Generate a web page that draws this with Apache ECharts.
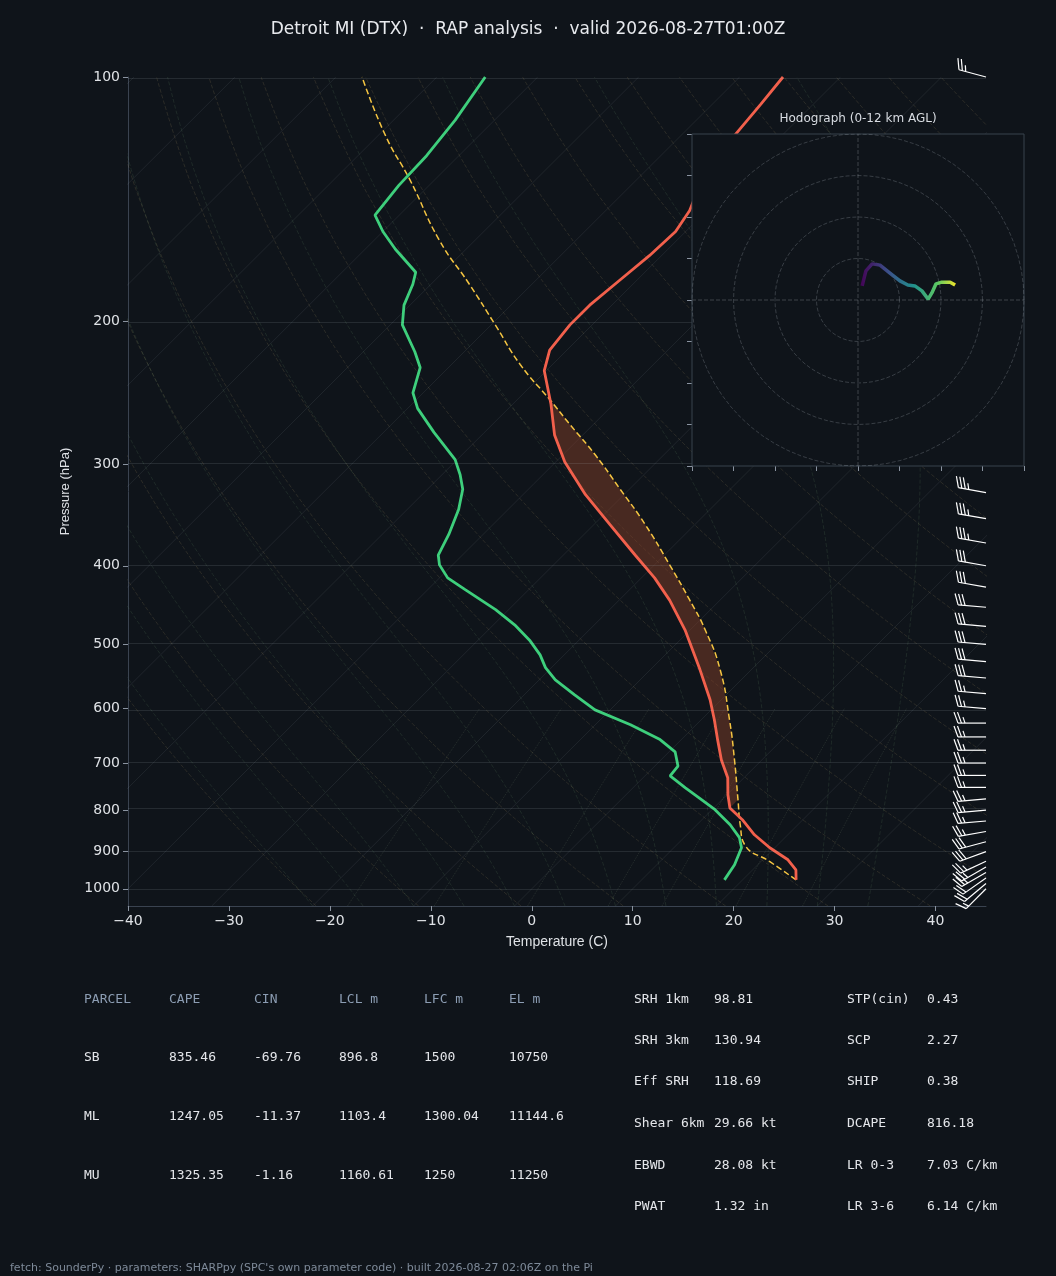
<!DOCTYPE html>
<html><head><meta charset="utf-8">
<script src="https://cdn.jsdelivr.net/npm/echarts@6/dist/echarts.min.js"></script>
<style>html,body{margin:0;padding:0;background:#0f141a}#c{width:1056px;height:1276px}</style>
</head><body><div id="c"></div>
<script>
// ---- data ----
const tempP = [975,948,921,890,858,822,795,766,730,694,655,619,585,537,480,441,414,388,356,327,298,276,253,230,217,202,191,178,166,155,146,136,127,118,108,100];
const tempT = [25.3,24.3,22.5,19.5,16.7,14.0,11.6,10.1,8.4,6.0,3.6,1.3,-1.1,-5.1,-10.5,-15.0,-18.7,-22.9,-28.4,-33.8,-39.1,-42.8,-46.2,-50.2,-51.7,-52.2,-52.2,-51.7,-51.2,-51.0,-51.7,-53.2,-54.2,-54.7,-55.2,-55.7];
const dewP = [975,934,890,865,834,799,773,751,726,706,678,655,628,602,577,553,534,515,494,473,453,428,414,399,388,366,341,322,309,296,274,256,245,228,218,202,191,180,174,163,155,148,136,125,113,100];
const dewT = [18.2,17.7,16.7,15.5,13.3,10.3,7.6,5.2,2.5,2.3,0.6,-2.1,-6.5,-11.5,-15.0,-18.4,-20.6,-22.4,-24.9,-27.9,-31.3,-36.3,-39.2,-41.3,-42.4,-43.4,-44.9,-46.5,-48.2,-50.2,-55.0,-59.0,-61.0,-62.8,-64.9,-68.8,-70.6,-71.8,-72.7,-77.0,-80.0,-82.4,-83.0,-83.2,-83.9,-85.2];
const parcelP = [975,926,883,834,777,694,619,537,480,441,399,356,322,292,268,250,226,202,180,159,134,118,100];
const parcelT = [25.3,20.9,16.75,14.3,11.6,7.3,2.8,-3.1,-8.5,-13.0,-18.5,-24.9,-30.9,-36.8,-42.3,-46.7,-53.2,-59.6,-66.2,-73.5,-82.4,-89.3,-97.4];
const windP = [1000,985,970,955,940,925,900,875,850,825,800,775,750,725,700,675,650,625,600,575,550,525,500,475,450,425,400,375,350,325,300,275,250,225,200,175,150,125,100];
const windSpd = [15,20,20,25,25,25,30,30,25,25,25,25,25,25,25,25,25,25,25,25,30,30,30,30,30,30,30,35,35,35,35,35,40,40,40,35,35,30,25];
const windDir = [225,230,235,240,240,245,250,255,260,265,265,265,270,270,270,270,270,270,275,275,275,275,275,275,275,280,280,280,280,280,280,280,280,280,280,280,280,285,285];
const hodoU = [1.0,1.9,3.4,5.3,7.7,10.1,12.0,13.7,15.4,16.9,17.8,18.8,20.2,22.2,23.4];
const hodoV = [3.4,7.0,8.7,8.4,6.5,4.6,3.6,3.4,2.2,0.2,1.7,3.9,4.3,4.3,3.6];
const pTicks = [100,200,300,400,500,600,700,800,900,1000];
const tableHead = ['PARCEL','CAPE','CIN','LCL m','LFC m','EL m'];
const tableRows = [['SB','835.46','-69.76','896.8','1500','10750'],['ML','1247.05','-11.37','1103.4','1300.04','11144.6'],['MU','1325.35','-1.16','1160.61','1250','11250']];
const paramL = [['SRH 1km','98.81'],['SRH 3km','130.94'],['Eff SRH','118.69'],['Shear 6km','29.66 kt'],['EBWD','28.08 kt'],['PWAT','1.32 in']];
const paramR = [['STP(cin)','0.43'],['SCP','2.27'],['SHIP','0.38'],['DCAPE','816.18'],['LR 0-3','7.03 C/km'],['LR 3-6','6.14 C/km']];

// ---- skew transform ----
const SK = 35;
const sx = (T,p) => T + SK*Math.log(1000/p);
const pts = (P,T) => P.map((p,i)=>[sx(T[i],p), Math.log(p)]);

const bg = [];
for (let T=-120; T<=40; T+=10) bg.push({type:'line',data:[[sx(T,1050),Math.log(1050)],[sx(T,100),Math.log(100)]],symbol:'none',silent:true,lineStyle:{color:'rgba(200,210,220,0.09)',width:1},z:1});
const plev=[]; for(let p=1050;p>=100;p-=25) plev.push(p);
for (let th=250; th<=470; th+=10) bg.push({type:'line',data:plev.map(p=>[sx(th*Math.pow(p/1000,0.2857)-273.15,p),Math.log(p)]),symbol:'none',silent:true,smooth:true,lineStyle:{color:'rgba(190,170,110,0.16)',width:1,type:'dashed'},z:1});
function es(Tc){return 6.112*Math.exp(17.67*Tc/(Tc+243.5));}
for (let T0=-20; T0<=35; T0+=5){
  let Tk=T0+273.15; const up=[];
  for(let pp=1050; pp>=100; pp-=10){ up.push([sx(Tk-273.15,pp),Math.log(pp)]);
    const e=es(Tk-273.15), rs=0.622*e/(pp-e);
    const dTdp=(287*Tk+2.5e6*rs)/(pp*(1004+2.5e6*2.5e6*rs*0.622/(287*Tk*Tk)));
    Tk -= dTdp*10; }
  bg.push({type:'line',data:up,symbol:'none',silent:true,lineStyle:{color:'rgba(120,170,120,0.15)',width:1,type:'dashed'},z:1});
}
[1,2,4,7,10,16,24].forEach(w=>{
  const d=[]; for(let p=1050;p>=600;p-=25){const e=w*p/(622+w);const l=Math.log(e/6.112);d.push([sx(243.5*l/(17.67-l),p),Math.log(p)]);}
  bg.push({type:'line',data:d,symbol:'none',silent:true,lineStyle:{color:'rgba(150,170,140,0.18)',width:1,type:'dotted'},z:1});
});

const capeTop=250, capeBot=800;
const capeSeries = {type:'custom',z:2,silent:true,data:[[0,Math.log(500)]],renderItem:(params,api)=>{
  const poly=[];
  parcelP.forEach((p,i)=>{if(p<=capeBot&&p>=capeTop) poly.push(api.coord([sx(parcelT[i],p),Math.log(p)]));});
  for(let i=tempP.length-1;i>=0;i--){const p=tempP[i]; if(p<=capeBot&&p>=capeTop) poly.push(api.coord([sx(tempT[i],p),Math.log(p)]));}
  return {type:'polygon',shape:{points:poly},style:{fill:'rgba(130,62,40,0.5)'}};
}};

const barbSeries={type:'custom',z:3,silent:true,clip:false,
  data: windP.map((p,i)=>[45,Math.log(p),windSpd[i],windDir[i]]),
  renderItem:(params,api)=>{
    const c=api.coord([api.value(0),api.value(1)]);
    const spd=api.value(2), d=api.value(3)*Math.PI/180, L=28;
    const s=[Math.sin(d),-Math.cos(d)], pr=[-s[1],s[0]];
    const tip=[c[0]+s[0]*L,c[1]+s[1]*L];
    const ch=[{type:'line',shape:{x1:c[0],y1:c[1],x2:tip[0],y2:tip[1]},style:{stroke:'#fff',lineWidth:1.2}}];
    let r=spd, pos=0;
    while(r>=50){const b=[tip[0]-s[0]*pos,tip[1]-s[1]*pos];ch.push({type:'polygon',shape:{points:[b,[b[0]+pr[0]*12+s[0]*2,b[1]+pr[1]*12+s[1]*2],[b[0]-s[0]*5,b[1]-s[1]*5]]},style:{fill:'#fff'}});pos+=7;r-=50;}
    while(r>=10){const b=[tip[0]-s[0]*pos,tip[1]-s[1]*pos];ch.push({type:'line',shape:{x1:b[0],y1:b[1],x2:b[0]+pr[0]*11+s[0]*4,y2:b[1]+pr[1]*11+s[1]*4},style:{stroke:'#fff',lineWidth:1.2}});pos+=3.5;r-=10;}
    if(r>=5){const b=[tip[0]-s[0]*pos,tip[1]-s[1]*pos];ch.push({type:'line',shape:{x1:b[0],y1:b[1],x2:b[0]+pr[0]*6+s[0]*2,y2:b[1]+pr[1]*6+s[1]*2},style:{stroke:'#fff',lineWidth:1.2}});}
    return {type:'group',children:ch};
  }};

const hodoBg={type:'custom',xAxisIndex:1,yAxisIndex:1,z:10,silent:true,data:[[0,0]],renderItem:(params,api)=>{
  const a=api.coord([-40,40]), b=api.coord([40,-40]);
  return {type:'rect',shape:{x:a[0],y:a[1],width:b[0]-a[0],height:b[1]-a[1]},style:{fill:'#0f141a',stroke:'#39424d',lineWidth:1}};
}};
const hodoExtra=[];
[10,20,30,40].forEach(r=>{const d=[];for(let k=0;k<=72;k++){const a=k*5*Math.PI/180;d.push([r*Math.cos(a),r*Math.sin(a)]);}
  hodoExtra.push({type:'line',xAxisIndex:1,yAxisIndex:1,z:11,data:d,symbol:'none',silent:true,lineStyle:{color:'rgba(200,210,220,0.22)',width:1,type:'dashed'}});});
hodoExtra.push({type:'line',xAxisIndex:1,yAxisIndex:1,z:11,data:[[-40,0],[40,0]],symbol:'none',silent:true,lineStyle:{color:'rgba(200,210,220,0.25)',width:1,type:'dashed'}});
hodoExtra.push({type:'line',xAxisIndex:1,yAxisIndex:1,z:11,data:[[0,-40],[0,40]],symbol:'none',silent:true,lineStyle:{color:'rgba(200,210,220,0.25)',width:1,type:'dashed'}});

const mono='"DejaVu Sans Mono", monospace';
const g=[];
const hc='#8c9db3', vc='#e4e6ea';
const colX=[84,169,254,339,424,509], rowY=[1000,1058,1117,1176];
tableHead.forEach((h,i)=>g.push({type:'text',left:colX[i],top:rowY[0]-7,style:{text:h,fill:hc,font:'13px '+mono}}));
tableRows.forEach((r,j)=>r.forEach((v,i)=>g.push({type:'text',left:colX[i],top:rowY[j+1]-7,style:{text:v,fill:vc,font:'13px '+mono}})));
const prY=[1000,1041,1082,1124,1166,1207];
paramL.forEach((r,j)=>{g.push({type:'text',left:634,top:prY[j]-7,style:{text:r[0],fill:vc,font:'13px '+mono}});g.push({type:'text',left:714,top:prY[j]-7,style:{text:r[1],fill:vc,font:'13px '+mono}});});
paramR.forEach((r,j)=>{g.push({type:'text',left:847,top:prY[j]-7,style:{text:r[0],fill:vc,font:'13px '+mono}});g.push({type:'text',left:927,top:prY[j]-7,style:{text:r[1],fill:vc,font:'13px '+mono}});});
g.push({type:'text',left:10,top:1263,style:{text:"fetch: SounderPy · parameters: SHARPpy (SPC's own parameter code) · built 2026-08-27 02:06Z on the Pi",fill:'#7e8a99',font:'11px "DejaVu Sans", sans-serif'}});
g.push({type:'text',x:858,y:113,style:{text:'Hodograph (0-12 km AGL)',fill:'#d8dce2',font:'12px "DejaVu Sans", sans-serif',textAlign:'center'}});

const lab={color:'#dfe2e6',fontSize:14,fontFamily:'DejaVu Sans'};
const chart=echarts.init(document.getElementById('c'));
chart.setOption({
  backgroundColor:'#0f141a', animation:false,
  title:{text:'Detroit MI (DTX)  ·  RAP analysis  ·  valid 2026-08-27T01:00Z',left:'center',top:16,textStyle:{color:'#e8eaee',fontSize:17,fontWeight:'normal',fontFamily:'DejaVu Sans'}},
  grid:[{left:128,top:77,width:858,height:829},{left:692,top:134,width:332,height:332}],
  xAxis:[{type:'value',min:-40,max:45,interval:10,axisLabel:Object.assign({showMaxLabel:false,formatter:v=>String(v).replace('-','\u2212')},lab),axisLine:{onZero:false,lineStyle:{color:'#3a4350'}},axisTick:{lineStyle:{color:'#8a93a0'}},splitLine:{show:false},name:'Temperature (C)',nameLocation:'middle',nameGap:29,nameTextStyle:{color:'#dfe2e6',fontSize:14}},
         {type:'value',gridIndex:1,min:-40,max:40,interval:10,axisLabel:{show:false},axisLine:{show:false,onZero:false},axisTick:{lineStyle:{color:'#8a93a0'}},splitLine:{show:false}}],
  yAxis:[{type:'value',inverse:true,min:Math.log(100),max:Math.log(1050),axisLabel:Object.assign({customValues:pTicks.map(p=>Math.log(p)),formatter:v=>Math.round(Math.exp(v))},lab),axisTick:{customValues:pTicks.map(p=>Math.log(p)),lineStyle:{color:'#8a93a0'}},axisLine:{show:true,onZero:false,lineStyle:{color:'#3a4350'}},splitLine:{show:false},name:'Pressure (hPa)',nameLocation:'middle',nameGap:56,nameTextStyle:{color:'#dfe2e6',fontSize:13}},
         {type:'value',gridIndex:1,min:-40,max:40,interval:10,axisLabel:{show:false},axisLine:{show:false,onZero:false},axisTick:{lineStyle:{color:'#8a93a0'}},splitLine:{show:false}}],
  graphic:g,
  series:[
    ...bg,
    {type:'line',data:[],markLine:{silent:true,symbol:'none',label:{show:false},lineStyle:{color:'rgba(200,210,220,0.12)',type:'solid',width:1},data:pTicks.map(p=>({yAxis:Math.log(p)}))}},
    capeSeries,
    {type:'line',data:pts(parcelP,parcelT),symbol:'none',smooth:true,z:4,lineStyle:{color:'#f5c542',width:1.5,type:'dashed'}},
    {type:'line',data:pts(tempP,tempT),symbol:'none',z:4,lineStyle:{color:'#f2604c',width:2.8}},
    {type:'line',data:pts(dewP,dewT),symbol:'none',z:4,lineStyle:{color:'#3ecf7c',width:2.8}},
    {type:'line',xAxisIndex:1,yAxisIndex:1,z:12,data:hodoU.map((u,i)=>[u,hodoV[i]]),symbol:'none',
      lineStyle:{width:3.5,color:new echarts.graphic.LinearGradient(0,0,1,0,[{offset:0,color:'#440154'},{offset:0.3,color:'#3b528b'},{offset:0.55,color:'#21918c'},{offset:0.8,color:'#5ec962'},{offset:1,color:'#fde725'}])}},
    barbSeries,
    hodoBg,
    ...hodoExtra
  ]
});
</script></body></html>
